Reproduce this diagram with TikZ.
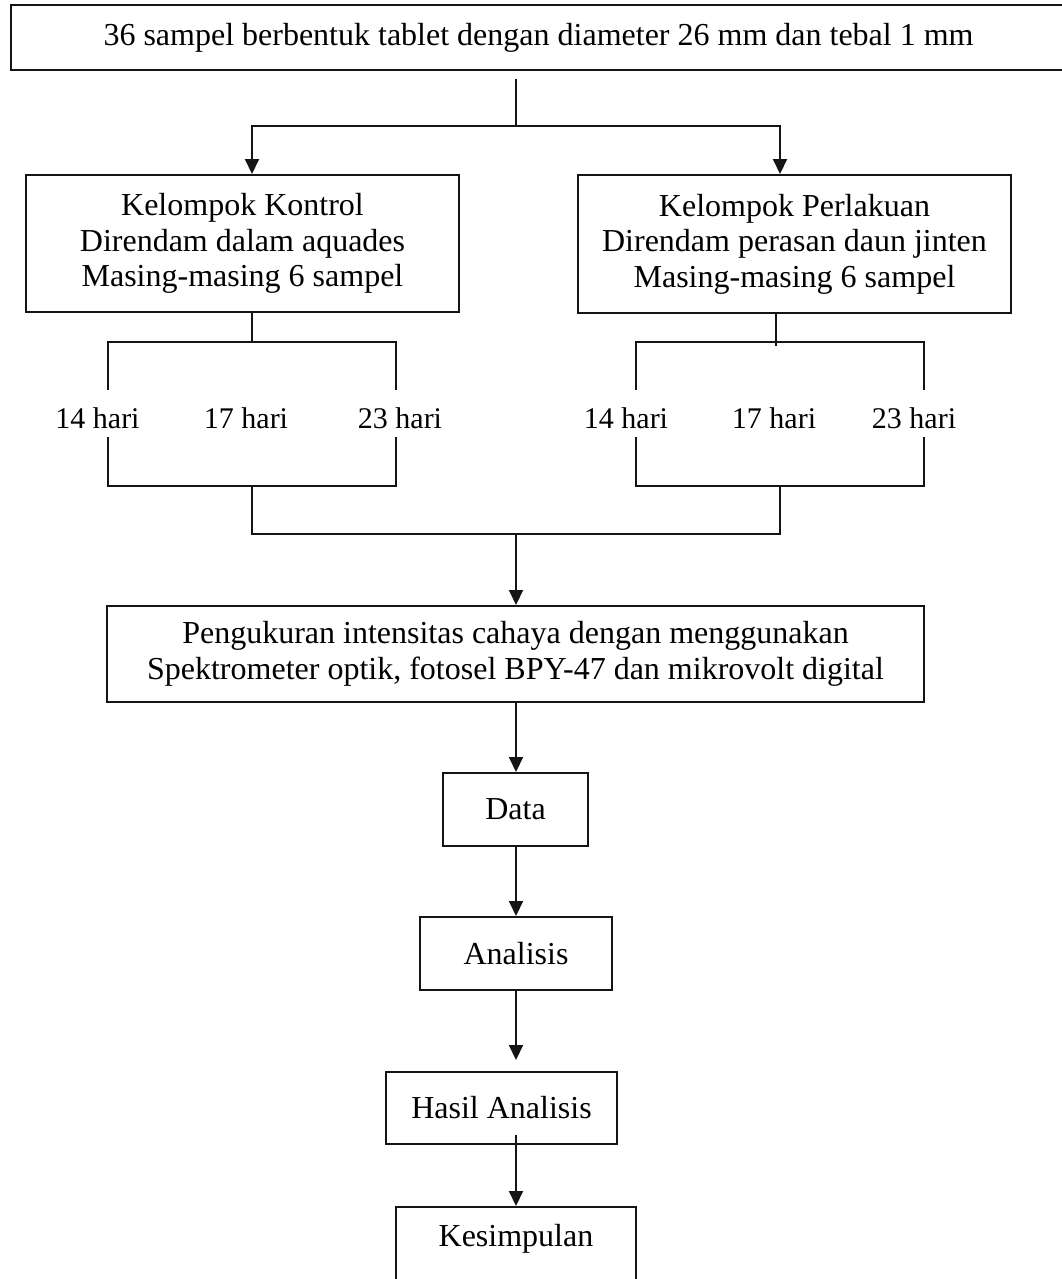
\documentclass[tikz,border=0pt]{standalone}
\usepackage{fontspec}
\setmainfont{Liberation Serif}
\usetikzlibrary{arrows.meta}
\definecolor{lc}{HTML}{151515}
\begin{document}
\begin{tikzpicture}[x=1pt,y=-1pt,
  box/.style={draw=lc, line width=2pt, inner sep=0pt, align=center,
    font=\fontsize{32}{35.5}\selectfont, text=black},
  lbl/.style={inner sep=0pt, font=\fontsize{30}{34}\selectfont, text=black},
  ln/.style={draw=lc, line width=2pt},
  arr/.style={ln, -{Triangle[length=15pt,width=14pt]}}]
\useasboundingbox (0,0) rectangle (1062,1279);
\clip (0,0) rectangle (1062,1279);
\fill[white] (0,0) rectangle (1062,1279);

% boxes
\node[box, minimum width=1055, minimum height=65] (top) at (538.5,37.5)
  {36 sampel berbentuk tablet dengan diameter 26 mm dan tebal 1 mm};
\node[box, minimum width=433, minimum height=137] (ctrl) at (242.5,243.5)
  {Kelompok Kontrol\\Direndam dalam aquades\\Masing-masing 6 sampel};
\node[box, minimum width=433, minimum height=138] (trt) at (794.5,244)
  {Kelompok Perlakuan\\Direndam perasan daun jinten\\Masing-masing 6 sampel};
\node[box, minimum width=817, minimum height=96] (ukur) at (515.5,654)
  {Pengukuran intensitas cahaya dengan menggunakan\\Spektrometer optik, fotosel BPY-47 dan mikrovolt digital};
\node[box, minimum width=145, minimum height=73] (data) at (515.5,809.5) {Data};
\node[box, minimum width=192, minimum height=73] (ana) at (516,953.5) {Analisis};
\node[box, minimum width=231, minimum height=72] (hasil) at (501.5,1108) {Hasil Analisis};
\node[box, minimum width=240, text height=39pt, text depth=45pt, anchor=north] (kes) at (516,1206) {Kesimpulan};

% day labels
\node[lbl] (a14) at (97.5,418) {14 hari};
\node[lbl] (a17) at (246,418) {17 hari};
\node[lbl] (a23) at (400,418) {23 hari};
\node[lbl] (b14) at (626,418) {14 hari};
\node[lbl] (b17) at (774,418) {17 hari};
\node[lbl] (b23) at (914,418) {23 hari};

% top split
\coordinate (j0) at (516,126);
\coordinate (jl) at (252,126);
\coordinate (jr) at (780,126);
\coordinate (tb) at (top.south -| j0);
\draw[ln] ([yshift=-8pt]tb) -- (j0);
\draw[arr] (j0) -| (jl |- ctrl.north);
\draw[arr] (j0) -| (jr |- trt.north);

% left bracket
\coordinate (lt) at (252,342);
\coordinate (la1) at (108,390);
\coordinate (la2) at (396,390);
\coordinate (lb1) at (108,437);
\coordinate (lb2) at (396,437);
\coordinate (lm) at (252,486);
\coordinate (lj) at (252,534);
\draw[ln] (ctrl.south -| lt) -- (lt);
\draw[ln] (la1) |- (lt) -| (la2);
\draw[ln] (lb1) |- (lm) -| (lb2);

% right bracket
\coordinate (rt) at (776,342);
\coordinate (ra1) at (636,390);
\coordinate (ra2) at (924,390);
\coordinate (rb1) at (636,437);
\coordinate (rb2) at (924,437);
\coordinate (rm) at (780,486);
\coordinate (rj) at (780,534);
\draw[ln] (trt.south -| rt) -- ([yshift=-4pt]rt);
\draw[ln] (ra1) |- (rt) -| (ra2);
\draw[ln] (rb1) |- (rm) -| (rb2);

% merge
\coordinate (mj) at (516,534);
\draw[ln] (lm) -- (lj) -- (rj) -- (rm);
\draw[arr] (mj) -- (ukur.north -| mj);

% chain
\draw[arr] (ukur.south -| mj) -- (data.north -| mj);
\draw[arr] (data.south -| mj) -- (ana.north -| mj);
\coordinate (htop) at (hasil.north -| mj);
\coordinate (hbot) at (hasil.south -| mj);
\draw[arr] (ana.south -| mj) -- ([yshift=11pt]htop);
\draw[arr] ([yshift=10pt]hbot) -- (kes.north);
\end{tikzpicture}
\end{document}
